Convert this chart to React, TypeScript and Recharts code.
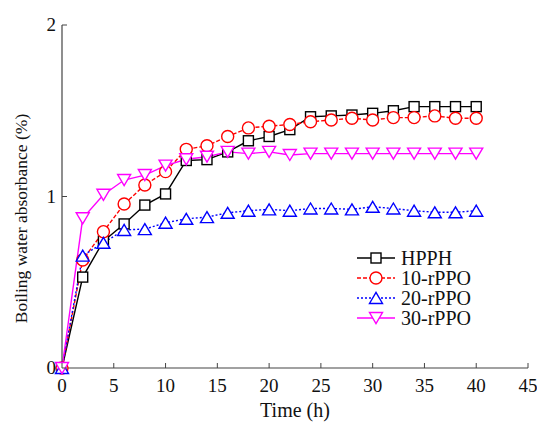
import React from 'react';
import {
    LineChart,
    Line,
    XAxis,
    YAxis,
    Legend,
} from 'recharts';

// time points (h)
const hours = [0, 2, 4, 6, 8, 10, 12, 14, 16, 18, 20, 22, 24, 26, 28, 30, 32, 34, 36, 38, 40];

// boiling water absorbance (%)
const hpph = [0, 0.53, 0.74, 0.84, 0.95, 1.015, 1.21, 1.215, 1.26, 1.325, 1.35, 1.39, 1.465, 1.47, 1.475, 1.485, 1.5, 1.524, 1.524, 1.524, 1.524];
const rppo10 = [0, 0.63, 0.795, 0.956, 1.067, 1.145, 1.275, 1.296, 1.35, 1.4, 1.41, 1.42, 1.436, 1.446, 1.456, 1.446, 1.46, 1.46, 1.47, 1.456, 1.456];
const rppo20 = [0, 0.655, 0.73, 0.805, 0.81, 0.847, 0.87, 0.88, 0.905, 0.917, 0.925, 0.917, 0.93, 0.93, 0.925, 0.94, 0.93, 0.917, 0.908, 0.908, 0.917];
const rppo30 = [0, 0.873, 1.01, 1.096, 1.125, 1.18, 1.217, 1.232, 1.26, 1.25, 1.26, 1.242, 1.25, 1.25, 1.25, 1.25, 1.25, 1.25, 1.25, 1.25, 1.25];

const xTicks = [0, 5, 10, 15, 20, 25, 30, 35, 40, 45];
const yTicks = [0, 1, 2];

const data = hours.map((h, i) => ({
    time: h,
    hpph: hpph[i],
    rppo10: rppo10[i],
    rppo20: rppo20[i],
    rppo30: rppo30[i],
}));

const FONT = '"Liberation Serif", "Times New Roman", serif';
const AXIS_COLOR = '#444';
const TICK_LEN = 5;
const X_MARGIN = 9;
const Y_MARGIN = 6;

type Shape = 'square' | 'circle' | 'up' | 'down';

const series: { key: string; name: string; color: string; dash?: string; shape: Shape }[] = [
    { key: 'hpph', name: 'HPPH', color: '#000000', shape: 'square' },
    { key: 'rppo10', name: '10-rPPO', color: '#ff0000', dash: '4 2', shape: 'circle' },
    { key: 'rppo20', name: '20-rPPO', color: '#0000ff', dash: '2 2', shape: 'up' },
    { key: 'rppo30', name: '30-rPPO', color: '#ff00ff', shape: 'down' },
];

const Marker = ({ cx, cy, shape, color }: { cx: number; cy: number; shape: Shape; color: string }) => {
    const sw = 1.4;
    if (shape === 'square') {
        return <rect x={cx - 5} y={cy - 5} width={10} height={10} fill="#fff" stroke={color} strokeWidth={sw} />;
    }
    if (shape === 'circle') {
        return <circle cx={cx} cy={cy} r={6} fill="#fff" stroke={color} strokeWidth={sw} />;
    }
    if (shape === 'up') {
        return (
            <polygon
                points={`${cx - 6.5},${cy + 5.5} ${cx + 6.5},${cy + 5.5} ${cx},${cy - 5.5}`}
                fill="#fff"
                stroke={color}
                strokeWidth={sw}
            />
        );
    }
    return (
        <polygon
            points={`${cx - 6.5},${cy - 5.5} ${cx + 6.5},${cy - 5.5} ${cx},${cy + 5.5}`}
            fill="#fff"
            stroke={color}
            strokeWidth={sw}
        />
    );
};

const XTick = (props: any) => {
    const { x, y, payload } = props;
    const axisY = y - X_MARGIN;
    return (
        <g>
            <line x1={x} y1={axisY} x2={x} y2={axisY - TICK_LEN} stroke={AXIS_COLOR} strokeWidth={1} />
            <text x={x} y={y} dy={15} textAnchor="middle" fontFamily={FONT} fontSize={19} fill="#111">
                {payload.value}
            </text>
        </g>
    );
};

const YTick = (props: any) => {
    const { x, y, payload } = props;
    const axisX = x + Y_MARGIN;
    return (
        <g>
            <line x1={axisX} y1={y} x2={axisX + TICK_LEN} y2={y} stroke={AXIS_COLOR} strokeWidth={1} />
            <text x={x} y={y} dy={6} textAnchor="end" fontFamily={FONT} fontSize={19} fill="#111">
                {payload.value}
            </text>
        </g>
    );
};

const YLabel = (props: any) => {
    const { viewBox } = props;
    const cx = viewBox.x - 1;
    const cy = viewBox.y + viewBox.height / 2 + 22;
    return (
        <text
            x={cx}
            y={cy}
            transform={`rotate(-90, ${cx}, ${cy})`}
            textAnchor="middle"
            dominantBaseline="central"
            fontFamily={FONT}
            fontSize={17.5}
            fill="#111"
        >
            Boiling water absorbance (%)
        </text>
    );
};

const XLabel = (props: any) => {
    const { viewBox } = props;
    return (
        <text
            x={viewBox.x + viewBox.width / 2}
            y={viewBox.y + viewBox.height - 1}
            textAnchor="middle"
            fontFamily={FONT}
            fontSize={20}
            fill="#111"
        >
            Time (h)
        </text>
    );
};

const LegendBox = () => (
    <div style={{ fontFamily: FONT, fontSize: 20, color: '#111' }}>
        {series.map(s => (
            <div key={s.key} style={{ display: 'flex', alignItems: 'center', height: 20 }}>
                <svg width={45} height={20}>
                    <line x1={1} y1={10} x2={39} y2={10} stroke={s.color} strokeWidth={1.4} strokeDasharray={s.dash} />
                    <Marker cx={20} cy={10} shape={s.shape} color={s.color} />
                </svg>
                <span style={{ lineHeight: '20px' }}>{s.name}</span>
            </div>
        ))}
    </div>
);

export default function App() {
    return (
        <div style={{ position: 'absolute', left: 0, top: 0, width: 537, height: 423, background: '#fff' }}>
            <LineChart
                width={537}
                height={423}
                data={data}
                margin={{ top: 25, right: 9, left: 22, bottom: 5 }}
            >
                <XAxis
                    dataKey="time"
                    type="number"
                    domain={[0, 45]}
                    ticks={xTicks}
                    height={50}
                    tickSize={0}
                    tickMargin={X_MARGIN}
                    tickLine={false}
                    tick={<XTick />}
                    axisLine={{ stroke: AXIS_COLOR, strokeWidth: 1.2 }}
                    label={<XLabel />}
                />
                <XAxis
                    xAxisId="top"
                    dataKey="time"
                    type="number"
                    domain={[0, 45]}
                    orientation="top"
                    height={0}
                    tick={false}
                    tickLine={false}
                    axisLine={{ stroke: AXIS_COLOR, strokeWidth: 1.2 }}
                />
                <YAxis
                    type="number"
                    domain={[0, 2]}
                    ticks={yTicks}
                    width={40}
                    tickSize={0}
                    tickMargin={Y_MARGIN}
                    tickLine={false}
                    tick={<YTick />}
                    axisLine={{ stroke: AXIS_COLOR, strokeWidth: 1.2 }}
                    label={<YLabel />}
                />
                <YAxis
                    yAxisId="right"
                    orientation="right"
                    domain={[0, 2]}
                    width={0}
                    tick={false}
                    tickLine={false}
                    axisLine={{ stroke: AXIS_COLOR, strokeWidth: 1.2 }}
                />
                <Legend
                    layout="vertical"
                    align="center"
                    verticalAlign="middle"
                    content={<LegendBox />}
                    wrapperStyle={{ left: 356, top: 248, width: 'auto' }}
                />
                {series.map(s => (
                    <Line
                        key={s.key}
                        type="linear"
                        dataKey={s.key}
                        name={s.name}
                        stroke={s.color}
                        strokeWidth={1.4}
                        strokeDasharray={s.dash}
                        isAnimationActive={false}
                        dot={(p: any) => <Marker key={`${s.key}-${p.index}`} cx={p.cx} cy={p.cy} shape={s.shape} color={s.color} />}
                    />
                ))}
            </LineChart>
        </div>
    );
}
